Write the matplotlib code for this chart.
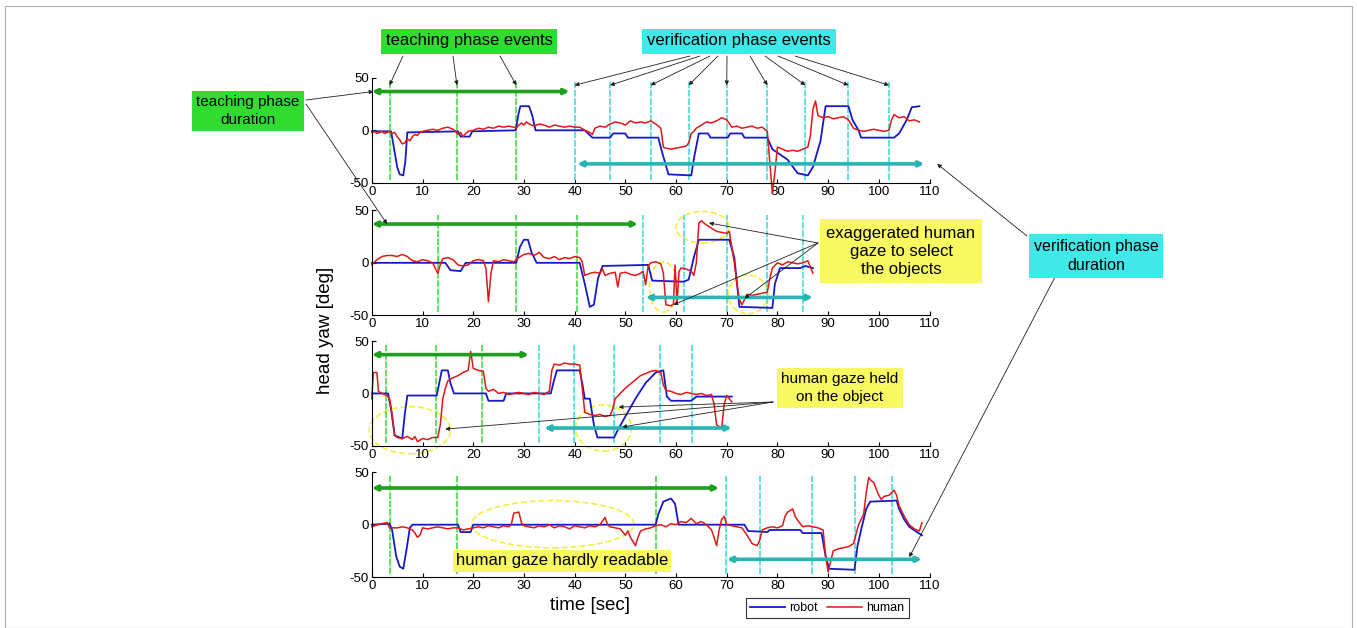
import matplotlib.pyplot as plt
from matplotlib.patches import Ellipse, Rectangle
from matplotlib.lines import Line2D

plt.rcParams['font.family'] = ['Liberation Sans', 'DejaVu Sans']
plt.rcParams['axes.unicode_minus'] = False

# head yaw traces: (time [sec], yaw [deg])
robot_1 = [(0, -1), (3.8, -1), (4.3, -15), (5.0, -35), (5.5, -42), (6.2, -43), (6.6, -30), (7.0, -2),
           (17.0, -1), (17.5, -6), (19.3, -6), (19.8, -1), (28.4, 0), (28.9, 15), (29.3, 23), (31.0, 23),
           (31.6, 15), (32.3, 0), (42.0, 0), (43.5, -7), (47.0, -7), (47.6, -3), (50.0, -3), (50.5, -7),
           (56.5, -7), (57.2, -20), (58.5, -42), (63.0, -43), (63.6, -25), (64.5, -3), (66.3, -3), (66.8, -7),
           (70.2, -7), (70.7, -3), (73.0, -3), (73.5, -7), (78.0, -7), (79.0, -18), (82.0, -28), (84.0, -41),
           (86.0, -43), (87.0, -35), (88.5, -10), (89.5, 23), (94.0, 23), (94.8, 10), (96.0, 0), (96.5, -7),
           (103.0, -7), (104.0, -3), (105.5, 10), (106.5, 22), (108.0, 23)]
human_1 = [(0, -2), (0.5, -1), (1, -3), (1.5, -2), (2, -1), (2.5, -3), (3, -2), (3.5, -1), (4, -3), (4.5, -2),
           (5, -6), (5.5, -9), (6, -13), (6.5, -12), (7, -8), (7.5, -10), (8, -6), (8.5, -4), (9, -5), (9.5, -2),
           (10, -1), (11, 0), (12, 1), (13, 0), (14, 2), (15, 3), (16, 1), (16.5, -1), (17, -4), (17.5, -2),
           (18, -6), (18.5, -3), (19, -1), (20, 0), (21, 2), (22, 1), (23, 3), (24, 2), (25, 4), (26, 3),
           (27, 4), (28, 3), (28.5, 2), (29, 5), (29.5, 7), (30, 5), (30.5, 8), (31, 6), (32, 4), (33, 6),
           (34, 5), (35, 3), (36, 5), (37, 4), (38, 3), (39, 4), (40, 3), (41, 3), (42, 0), (43, -2),
           (43.5, -4), (44, 2), (45, 4), (46, 3), (47, 6), (48, 8), (49, 7), (50, 5), (51, 9), (52, 7),
           (53, 8), (54, 7), (55, 9), (56, 6), (57, 2), (57.5, -16), (58, -17), (59, -18), (60, -17), (61, -16),
           (62, -15), (62.5, -12), (63, -3), (63.5, -1), (64, 2), (65, 5), (66, 8), (67, 7), (68, 9), (69, 12),
           (70, 10), (71, 3), (72, 4), (73, 2), (74, 3), (75, 4), (76, 2), (77, 3), (78, -1), (78.5, -30),
           (79, -60), (79.5, -40), (80, -16), (81, -18), (82, -20), (83, -19), (84, -20), (85, -18), (86, -16),
           (86.5, -5), (87, 20), (87.5, 28), (88, 14), (89, 12), (90, 13), (91, 11), (92, 12), (93, 13),
           (94, 10), (95, 2), (96, 0), (97, -1), (98, 0), (99, 1), (100, 0), (101, -1), (102, 0), (102.5, 10),
           (103, 15), (104, 12), (105, 13), (106, 9), (107, 10), (108, 8)]

robot_2 = [(0, 0), (14.5, 0), (15.5, -7), (17.5, -8), (18.5, 0), (28.5, 0), (29.2, 15), (30.0, 22), (30.8, 22),
           (31.5, 10), (32.5, 0), (41.0, 0), (42.0, -20), (43.0, -42), (43.8, -40), (44.6, -15), (45.5, -3),
           (54.5, -2), (55.3, -17), (61.5, -18), (62.5, -16), (63.5, 5), (64.5, 22), (70.5, 22), (71.5, 5),
           (72.5, -42), (79.0, -43), (79.5, -20), (80.5, -5), (84.5, -5), (85.5, -3), (87.0, -5)]
human_2 = [(0, -2), (1, 3), (2, 6), (3, 7), (4, 7), (5, 6), (6, 8), (7, 6), (8, 2), (9, 1), (10, 3), (11, 2),
           (12, 0), (12.5, -5), (13, -10), (13.5, -2), (14, 4), (15, 5), (16, 3), (17, -2), (18, -3), (19, -2),
           (20, 2), (21, 3), (22, 2), (22.5, -5), (23, -37), (23.5, -10), (24, 2), (25, 1), (26, 3), (27, 2),
           (28, 1), (29, 5), (30, 8), (31, 9), (32, 7), (33, 10), (34, 5), (35, 4), (36, 6), (37, 3), (38, 5),
           (39, 4), (40, 6), (41, 5), (41.5, 1), (42, -12), (43, -10), (44, -9), (45, -10), (45.5, -6),
           (46, -12), (47, -10), (48, -9), (48.5, -23), (49, -10), (50, -9), (51, -11), (52, -12), (53, -10),
           (53.5, -8), (54, -21), (54.5, -3), (55, 0), (56, 1), (57, -1), (57.5, -10), (58, -40), (59, -41),
           (59.5, -39), (59.8, -2), (60.2, -38), (60.6, -8), (61, -5), (62, -6), (63, -8), (63.5, -12), (64, 0),
           (64.5, 38), (65, 40), (66, 36), (67, 33), (68, 30), (69, 29), (70, 28), (70.5, 30), (71, 15),
           (71.5, 0), (72, -20), (72.5, -35), (73, -40), (74, -30), (75, -31), (76, -30), (77, -29), (78, -28),
           (78.5, -15), (79, -5), (80, 0), (81, -2), (82, 1), (83, 0), (84, -1), (85, 0), (86, 2), (87, -10)]

robot_3 = [(0, 0), (3.2, 0), (3.8, -15), (4.5, -40), (6.0, -43), (6.5, -20), (7.0, -2), (12.8, -2), (13.3, 10),
           (13.8, 22), (15.0, 22), (15.5, 10), (16.2, 0), (22.5, 0), (23.0, -7), (26.0, -7), (26.5, 0),
           (35.3, 0), (35.8, 10), (36.5, 22), (41.0, 22), (41.5, 10), (42.0, -5), (43.0, -5), (43.8, -30),
           (44.5, -42), (47.8, -42), (48.5, -35), (50, -22), (52, -5), (54, 10), (56, 20), (57.5, 22),
           (58.2, -3), (59, -7), (63, -7), (64, -3), (71, -3)]
human_3 = [(0, -5), (0.3, 20), (1.0, 20), (1.3, 2), (2, 0), (3, -2), (3.5, -5), (4, -20), (4.5, -40),
           (5, -42), (6, -43), (7, -41), (8, -44), (8.5, -41), (9, -46), (10, -43), (11, -44), (12, -42),
           (13, -42), (13.5, -30), (14, -5), (14.5, 5), (15, 12), (16, 15), (17, 17), (18, 20), (19, 22),
           (19.5, 40), (20, 24), (21, 22), (22, 21), (22.5, 5), (23, 2), (24, 4), (25, 0), (26, 1), (27, -1),
           (28, 0), (29, 1), (30, 0), (31, -1), (32, 1), (33, 0), (34, -1), (35, 2), (35.5, 22), (36, 28),
           (37, 27), (38, 29), (39, 28), (40, 28), (41, 27), (41.5, 5), (42, -18), (43, -20), (44, -21),
           (45, -20), (46, -22), (47, -21), (47.5, -15), (48, -5), (49, 0), (50, 5), (51, 9), (52, 13),
           (53, 17), (54, 19), (55, 21), (56, 22), (57, 20), (57.5, 8), (58, 3), (59, 2), (60, 0), (61, -1),
           (62, 1), (63, 0), (64, -1), (65, 0), (66, -2), (67, -1), (67.5, -10), (68, -30), (69, -33),
           (69.5, -10), (70, -2), (71, -8)]

robot_4 = [(0, 0), (3.5, 1), (4, -5), (4.8, -30), (5.5, -40), (6.2, -42), (6.8, -25), (7.5, -3), (8, 0),
           (17, 0), (17.5, -7), (19.5, -7), (20, 0), (56, 0), (56.5, 10), (57.5, 22), (59, 25), (59.8, 20),
           (60.5, 0), (73.5, 0), (74.2, -6), (78, -7), (78.5, -5), (84.5, -5), (85, -8), (88.7, -8),
           (89.5, -30), (90.2, -42), (95.2, -43), (95.8, -20), (96.5, -5), (97.5, 15), (98.3, 22),
           (103.5, 23), (104, 15), (105, 5), (106, -2), (107.5, -7), (108.5, -10)]
human_4 = [(0, -2), (1, 0), (2, 1), (3, 2), (3.5, -3), (5, -3), (6, -2), (7, -3), (8, -5), (8.5, -8),
           (9, -12), (9.5, -10), (10, -3), (11, -4), (12, -3), (13, -2), (14, -3), (15, -4), (16, -3),
           (17, -3), (18, -5), (19, -4), (20, -3), (21, -2), (22, -3), (23, -1), (24, -2), (25, -3), (26, -1),
           (27, -2), (27.5, 0), (28, 11), (29, 12), (29.5, 2), (30, -1), (31, -2), (32, -3), (33, -1),
           (34, -2), (35, 0), (36, -3), (37, -1), (38, -2), (39, -4), (40, -1), (41, -2), (42, -3), (43, -1),
           (44, -2), (45, 0), (46, 7), (46.5, 0), (47, -2), (48, -3), (49, -4), (50, -10), (50.5, -6),
           (51, -12), (52, -20), (52.5, -12), (53, -6), (54, -4), (55, -3), (56, -1), (57, 0), (58, -2),
           (59, 1), (60, 0), (61, 3), (62, 2), (63, 6), (64, 1), (65, 3), (66, 0), (67, -5), (67.5, -12),
           (68, -20), (68.5, -5), (69, 5), (69.5, 8), (70, 0), (71, -1), (72, -2), (73, -3), (74, -10),
           (75, -18), (76, -20), (76.5, -15), (77, -5), (78, -3), (79, -2), (80, -3), (81, -1), (81.5, 8),
           (82, 12), (83, 15), (83.5, 8), (84, 4), (85, -2), (86, -1), (87, -2), (88, -3), (89, -5),
           (89.5, -30), (90, -45), (90.5, -35), (91, -25), (92, -23), (93, -22), (94, -21), (95, -18),
           (96, 0), (97, 10), (97.5, 30), (98, 45), (98.5, 42), (99, 40), (100, 28), (100.5, 24), (101, 27),
           (102, 28), (103, 33), (103.5, 28), (104, 18), (105, 8), (106, 0), (107, -4), (108, -6), (108.5, 2)]

robots = [robot_1, robot_2, robot_3, robot_4]
humans = [human_1, human_2, human_3, human_4]

# event times and phase spans per trial
teach_events = [[3.5, 16.8, 28.5], [13, 28.5, 40.5], [2.7, 12.7, 21.8], [3.5, 16.8, 56]]
verif_events = [[40, 47, 55, 62.5, 70, 78, 85.5, 94, 102], [53.5, 61.5, 70, 78, 85],
                [33, 39.8, 47.8, 56.8, 63.2], [69.8, 76.5, 86.8, 95.2, 102.5]]
teach_span = [(0, 39), (0, 52.5), (0, 31), (0, 68.5)]
verif_span = [(40.5, 109), (54, 87), (34, 71), (70, 108.5)]

BLUE = '#1818c8'
RED = '#e01818'
GREEN_LINE = '#44dd44'
GREEN_BAR = '#1ea01e'
CYAN_LINE = '#44dddd'
CYAN_BAR = '#2ab4b4'
GREEN_BOX = '#30dc30'
CYAN_BOX = '#40e8e8'
YELLOW_BOX = '#f8f860'
ELLIPSE_C = '#f0f040'


def fp(x, y):
    # reference pixel (from top-left) -> figure fraction
    return (x / 1357, 1 - y / 628)


fig = plt.figure(figsize=(13.57, 6.28), dpi=100)
bottoms = [0.709, 0.498, 0.290, 0.081]
axes = []
for i, b in enumerate(bottoms):
    ax = fig.add_axes([0.274, b, 0.411, 0.167])
    axes.append(ax)
    for t in teach_events[i]:
        ax.plot([t, t], [-47, 46], color=GREEN_LINE, lw=1.2, ls=(0, (4, 1)))
    for t in verif_events[i]:
        ax.plot([t, t], [-47, 46], color=CYAN_LINE, lw=1.2, ls=(0, (4, 1)))
    rt, rv = zip(*robots[i])
    ht, hv = zip(*humans[i])
    ax.plot(rt, rv, color=BLUE, lw=1.3, clip_on=False)
    ax.plot(ht, hv, color=RED, lw=1.1, clip_on=False)
    ty = 35 if i == 3 else 37
    ax.annotate('', xy=(teach_span[i][0], ty), xytext=(teach_span[i][1], ty),
                arrowprops=dict(arrowstyle='<|-|>', color=GREEN_BAR, lw=2.6, mutation_scale=7,
                                shrinkA=0, shrinkB=0))
    vy = -32 if i == 0 else -33
    ax.annotate('', xy=(verif_span[i][0], vy), xytext=(verif_span[i][1], vy),
                arrowprops=dict(arrowstyle='<|-|>', color=CYAN_BAR, lw=2.6, mutation_scale=7,
                                shrinkA=0, shrinkB=0), annotation_clip=False)
    ax.set_xlim(0, 110)
    ax.set_ylim(-50, 50)
    ax.set_xticks(range(0, 111, 10))
    ax.set_yticks([-50, 0, 50])
    ax.tick_params(direction='in', length=3, labelsize=9.5, pad=2)
    ax.spines['top'].set_visible(False)
    ax.spines['right'].set_visible(False)
    ax.patch.set_alpha(0)

ax1, ax2, ax3, ax4 = axes

# dashed yellow ellipses around notable gaze segments
for ax, c, w, h in [(ax2, (65.2, 34), 10.5, 30), (ax2, (57.5, -23), 5.5, 48), (ax2, (74.2, -30), 7.8, 37),
                    (ax3, (7.5, -35), 16, 45), (ax3, (45.7, -33), 11, 44), (ax4, (35.7, 0.5), 32, 45)]:
    ax.add_patch(Ellipse(c, w, h, fill=False, ec=ELLIPSE_C, ls='--', lw=1.2, clip_on=False))

# annotation boxes
fig.text(*fp(469, 41), 'teaching phase events', ha='center', va='center', fontsize=12,
         bbox=dict(boxstyle='square,pad=0.3', fc=GREEN_BOX, ec='none'))
fig.text(*fp(739, 41), 'verification phase events', ha='center', va='center', fontsize=12,
         bbox=dict(boxstyle='square,pad=0.3', fc=CYAN_BOX, ec='none'))
fig.text(*fp(248, 111), 'teaching phase\nduration', ha='center', va='center', fontsize=11,
         linespacing=1.3, bbox=dict(boxstyle='square,pad=0.3', fc=GREEN_BOX, ec='none'))
fig.text(*fp(1096, 256), 'verification phase\nduration', ha='center', va='center', fontsize=11.5,
         linespacing=1.3, bbox=dict(boxstyle='square,pad=0.3', fc=CYAN_BOX, ec='none'))
fig.text(*fp(901, 251), 'exaggerated human\ngaze to select\nthe objects', ha='center', va='center',
         fontsize=12, linespacing=1.25, bbox=dict(boxstyle='square,pad=0.4', fc=YELLOW_BOX, ec='none'))
fig.text(*fp(840, 388), 'human gaze held\non the object', ha='center', va='center', fontsize=11,
         linespacing=1.3, bbox=dict(boxstyle='square,pad=0.3', fc=YELLOW_BOX, ec='none'))
fig.text(*fp(562, 561), 'human gaze hardly readable', ha='center', va='center', fontsize=12,
         bbox=dict(boxstyle='square,pad=0.2', fc=YELLOW_BOX, ec='none'))


def pointer(ax, start, target):
    ax.annotate('', xy=target, xycoords='data', xytext=fp(*start), textcoords='figure fraction',
                arrowprops=dict(arrowstyle='-|>', color='#202020', lw=0.6, mutation_scale=6,
                                shrinkA=0, shrinkB=0), annotation_clip=False)


for sx, t in zip([403, 453, 500], teach_events[0]):
    pointer(ax1, (sx, 56), (t, 43))
for sx, t in zip([690, 700, 710, 718, 727, 750, 765, 778, 795], verif_events[0]):
    pointer(ax1, (sx, 56), (t, 43))
pointer(ax1, (306, 100), (0.3, 37))
pointer(ax2, (306, 104), (3, 37))
pointer(ax1, (1027, 236), (111.5, -32))
pointer(ax4, (1055, 277), (106, -31))
for target in [(66.5, 38), (59.5, -40), (73.5, -34)]:
    pointer(ax2, (818, 243), target)
for target in [(14.5, -34), (48.7, -13), (49.4, -32)]:
    pointer(ax3, (773, 402), target)

fig.text(*fp(590, 606), 'time [sec]', ha='center', va='center', fontsize=13.5)
fig.text(*fp(325, 330), 'head yaw [deg]', ha='center', va='center', fontsize=13.5, rotation=90)

handles = [Line2D([], [], color=BLUE, lw=1.3), Line2D([], [], color=RED, lw=1.1)]
leg = fig.legend(handles, ['robot', 'human'], loc='center', bbox_to_anchor=fp(827, 608), ncol=2,
                 fontsize=9, frameon=True, fancybox=False, borderpad=0.35, handlelength=2.8,
                 handletextpad=0.3, columnspacing=0.8)
leg.get_frame().set_edgecolor('black')
leg.get_frame().set_linewidth(0.8)

fig.patches.append(Rectangle((0.004, 0.0), 0.992, 0.99, transform=fig.transFigure, fill=False,
                             ec='#b0b0b0', lw=0.8))

fig.savefig('out.png', dpi=100)
